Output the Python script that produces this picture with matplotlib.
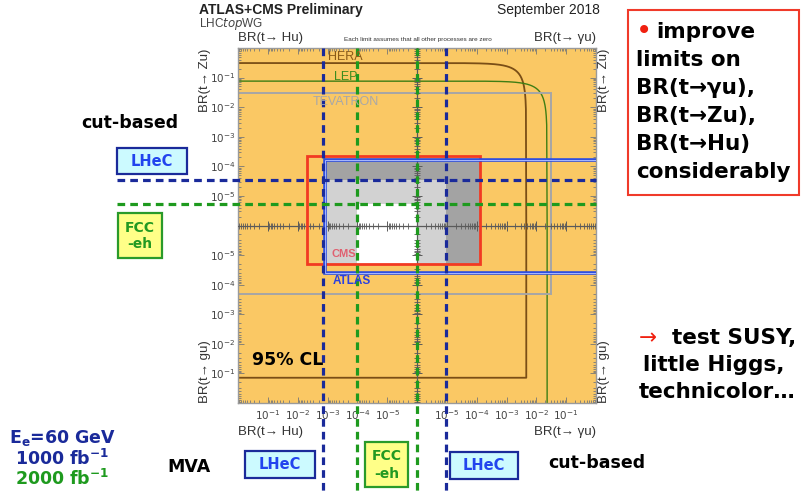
import numpy as np
import matplotlib
matplotlib.use("Agg")
import matplotlib.pyplot as plt
from matplotlib.patches import Rectangle
from matplotlib.ticker import FixedLocator, FuncFormatter

# --------------------------------------------------------------------------
# Data: 95% CL limits (1.0 = no limit drawn)
# --------------------------------------------------------------------------
experiments = ["HERA", "LEP", "TEVATRON", "CMS", "ATLAS"]
br_hu    = [1.0,    1.0,   1.0,    4.9e-3, 1.2e-3]
br_zu    = [0.31,   0.076, 0.030,  2.2e-4, 1.6e-4]
br_gamma = [4.6e-3, 0.023, 0.032,  1.3e-4, 1.0]
br_gu    = [0.14,   1.0,   2.0e-4, 2.0e-5, 4.0e-5]

# projected ep sensitivities (dashed lines)
projections = ["LHeC", "FCC-eh"]
proj_hu    = [1.4e-3, 1.0e-4]
proj_gamma = [9.3e-6, 1.0e-6]
proj_zu    = [3.5e-5, 5.4e-6]

decades = [-1, -2, -3, -4, -5]

W, H = 802, 492
ORANGE = "#FAC864"
NAVY = "#1A2A9A"
GREEN = "#1E9A1E"
PLOTFONT = ["Liberation Sans", "DejaVu Sans"]


# quadrant mapping: centre of the plot = 1e-6 on every axis, edges = 1
def ux_hu(br):
    return -(np.log10(br) + 6)


def ux_gam(br):
    return np.log10(br) + 6


def uy_zu(br):
    return np.log10(br) + 6


def uy_gu(br):
    return -(np.log10(br) + 6)


def fig_box(x0, y0, x1, y1):
    return [x0 / W, 1 - y1 / H, (x1 - x0) / W, (y1 - y0) / H]


plt.rcParams["font.family"] = ["DejaVu Sans"]
fig = plt.figure(figsize=(W / 100, H / 100), dpi=100)
fig.patch.set_facecolor("white")

# --------------------------------------------------------------------------
# Summary plot
# --------------------------------------------------------------------------
ax = fig.add_axes(fig_box(238, 48, 596, 403))
ax.set_facecolor(ORANGE)
ax.set_xlim(-6, 6)
ax.set_ylim(-6, 6)

i_cms, i_atl = experiments.index("CMS"), experiments.index("ATLAS")
i_lhec, i_fcc = projections.index("LHeC"), projections.index("FCC-eh")

# shaded regions
x0 = ux_hu(br_hu[i_atl])
y0 = uy_gu(br_gu[i_cms])
ax.add_patch(Rectangle((x0, y0), ux_gam(br_gamma[i_cms]) - x0,
                       uy_zu(br_zu[i_atl]) - y0, fc="#A3A3A3", ec="none", zorder=1))
ax.add_patch(Rectangle((x0, y0), ux_gam(proj_gamma[i_lhec]) - x0,
                       uy_zu(proj_zu[i_lhec]) - y0, fc="#D2D2D2", ec="none", zorder=1))
xf = ux_hu(proj_hu[i_fcc])
ax.add_patch(Rectangle((xf, y0), ux_gam(proj_gamma[i_fcc]) - xf,
                       uy_zu(proj_zu[i_fcc]) - y0, fc="white", ec="none", zorder=1))

# HERA and LEP: rounded corner in the (gamma u, Zu) quadrant
for name, clr, lw in [("HERA", "#7A4E16", 1.3), ("LEP", "#3E7E14", 1.0)]:
    i = experiments.index(name)
    X, Y, G = br_gamma[i], br_zu[i], br_gu[i]
    xs = np.logspace(-6, np.log10(X), 300)
    ys = np.clip(Y * (1 - xs / X), 1e-6, None)
    px = np.concatenate([[ux_hu(br_hu[i]), 0], ux_gam(xs), [ux_gam(X), ux_gam(X)]])
    py = np.concatenate([[uy_zu(Y), uy_zu(Y)], uy_zu(ys), [0, uy_gu(G)]])
    if G < 1:
        px = np.append(px, ux_hu(br_hu[i]))
        py = np.append(py, uy_gu(G))
    ax.plot(px, py, color=clr, lw=lw, zorder=2)

i = experiments.index("TEVATRON")
xt0 = ux_hu(br_hu[i])
yt0 = uy_gu(br_gu[i])
ax.add_patch(Rectangle((xt0, yt0), ux_gam(br_gamma[i]) - xt0, uy_zu(br_zu[i]) - yt0,
                       fc="none", ec="#A6A6A6", lw=1.4, zorder=2))

# centre cross with log ticks
minor = []
for k in range(-6, 0):
    for m in range(2, 10):
        minor.append(np.log10(m * 10.0 ** k) + 6)
minor = np.array(minor)
minor_u = np.concatenate([-minor, minor])
major_u = np.array([-5, -4, -3, -2, -1, 1, 2, 3, 4, 5])
ax.axhline(0, color="#5A5A5A", lw=0.9, zorder=3)
ax.axvline(0, color="#5A5A5A", lw=0.9, zorder=3)
ax.plot(minor_u, np.zeros_like(minor_u), ls="none", marker="|", ms=4,
        mew=0.6, color="#5A5A5A", zorder=3)
ax.plot(major_u, np.zeros_like(major_u), ls="none", marker="|", ms=7,
        mew=0.7, color="#5A5A5A", zorder=3)
ax.plot(np.zeros_like(minor_u), minor_u, ls="none", marker="_", ms=4,
        mew=0.6, color="#5A5A5A", zorder=3)
ax.plot(np.zeros_like(major_u), major_u, ls="none", marker="_", ms=7,
        mew=0.7, color="#5A5A5A", zorder=3)

# CMS
xc0, yc0 = ux_hu(br_hu[i_cms]), uy_gu(br_gu[i_cms])
ax.add_patch(Rectangle((xc0, yc0), ux_gam(br_gamma[i_cms]) - xc0,
                       uy_zu(br_zu[i_cms]) - yc0, fc="none", ec="#F23A22",
                       lw=2.0, zorder=4))

# ATLAS (double line look)
xa0 = ux_hu(br_hu[i_atl])
xa1 = ux_gam(br_gamma[i_atl])
ya_top, ya_bot = uy_zu(br_zu[i_atl]), uy_gu(br_gu[i_atl])
for clr, lw in [("#2E4FE0", 2.6), ("#A9B9FF", 0.7)]:
    ax.plot([xa1, xa0, xa0, xa1], [ya_top, ya_top, ya_bot, ya_bot],
            color=clr, lw=lw, zorder=5, solid_joinstyle="miter")

# frame ticks
ax.xaxis.set_major_locator(FixedLocator(major_u))
ax.yaxis.set_major_locator(FixedLocator(major_u))
ax.xaxis.set_minor_locator(FixedLocator(minor_u))
ax.yaxis.set_minor_locator(FixedLocator(minor_u))
fmt = FuncFormatter(lambda u, pos: r"$10^{%d}$" % (abs(round(u)) - 6))
ax.xaxis.set_major_formatter(fmt)
ax.yaxis.set_major_formatter(fmt)
ax.tick_params(which="both", direction="in", top=True, right=True,
               color="#777777", width=0.6, labelsize=7.5, labelcolor="#444444")
ax.tick_params(which="major", length=4)
ax.tick_params(which="minor", length=2)
ax.tick_params(axis="x", pad=4)
ax.tick_params(axis="y", pad=2)
for s in ax.spines.values():
    s.set_color("#9A9A9A")
    s.set_linewidth(1.0)

# projected limits, drawn across the slide
dash = dict(lw=2.3, dashes=(2.4, 1.6), clip_on=False, zorder=6)
tx = ax.get_xaxis_transform()
ty = ax.get_yaxis_transform()
ybot = -(H - 403) / (403 - 48)
xleft = -(238 - 117) / (596 - 238)
for j, clr in [(i_lhec, NAVY), (i_fcc, GREEN)]:
    for u in [ux_hu(proj_hu[j]), ux_gam(proj_gamma[j])]:
        ax.plot([u, u], [1, ybot], color=clr, transform=tx, **dash)
    u = uy_zu(proj_zu[j])
    ax.plot([xleft, 1], [u, u], color=clr, transform=ty, **dash)

# --------------------------------------------------------------------------
# Slide overlay in pixel coordinates
# --------------------------------------------------------------------------
ov = fig.add_axes([0, 0, 1, 1], zorder=10)
ov.set_xlim(0, W)
ov.set_ylim(H, 0)
ov.axis("off")
ov.patch.set_alpha(0)

# plot labels
ov.text(199, 10, "ATLAS+CMS Preliminary", family=PLOTFONT, weight="bold",
        fontsize=10, va="center", color="#222222")
ov.text(199, 24, r"LHC$\it{top}$WG", family=PLOTFONT, fontsize=8.5,
        va="center", color="#444444")
ov.text(600, 10, "September 2018", family=PLOTFONT, fontsize=10,
        ha="right", va="center", color="#222222")
ov.text(238, 38, "BR(t→ Hu)", family=PLOTFONT, fontsize=9.5, va="center", color="#333333")
ov.text(596, 38, "BR(t→ γu)", family=PLOTFONT, fontsize=9.5, ha="right",
        va="center", color="#333333")
ov.text(418, 39, "Each limit assumes that all other processes are zero",
        family=PLOTFONT, fontsize=4.6, ha="center", va="center", color="#333333")
ov.text(238, 432, "BR(t→ Hu)", family=PLOTFONT, fontsize=9.5, va="center", color="#333333")
ov.text(596, 432, "BR(t→ γu)", family=PLOTFONT, fontsize=9.5, ha="right",
        va="center", color="#333333")
for xx in [205, 604]:
    ov.text(xx, 49, "BR(t→ Zu)", family=PLOTFONT, fontsize=9.5, rotation=90,
            ha="center", va="top", color="#333333")
    ov.text(xx, 403, "BR(t→ gu)", family=PLOTFONT, fontsize=9.5, rotation=90,
            ha="center", va="bottom", color="#333333")

ov.text(328, 57, "HERA", family=PLOTFONT, fontsize=9, va="center", color="#8A5A18")
ov.text(334, 77, "LEP", family=PLOTFONT, fontsize=9, va="center", color="#3C8C1E")
ov.text(313, 102, "TEVATRON", family=PLOTFONT, fontsize=9, va="center", color="#A8A8A8")
ov.text(331, 254, "CMS", family=PLOTFONT, fontsize=8, weight="bold", va="center",
        color="#E06070")
ov.text(333, 281, "ATLAS", family=PLOTFONT, fontsize=8.5, weight="bold", va="center",
        color="#2A40E0")
ov.text(252, 360, "95% CL", fontsize=12.5, weight="bold", va="center", color="black")

# right-hand message box
ov.add_patch(Rectangle((628, 10), 171, 185, fc="white", ec="#F03A2A", lw=1.5))
ov.text(636, 31, "•", fontsize=20, color="#F02010", va="center")
ov.text(656, 32, "improve", fontsize=15.5, weight="bold", va="center")
for k, line in enumerate(["limits on", "BR(t→γu),", "BR(t→Zu),", "BR(t→Hu)",
                          "considerably"]):
    ov.text(636, 60 + 28 * k, line, fontsize=15.5, weight="bold", va="center")

ov.text(639, 338, "→", fontsize=15.5, color="#F02010", va="center")
ov.text(672, 338, "test SUSY,", fontsize=15.5, weight="bold", va="center")
ov.text(643, 365, "little Higgs,", fontsize=15.5, weight="bold", va="center")
ov.text(639, 392, "technicolor…", fontsize=15.5, weight="bold", va="center")

ov.text(130, 123, "cut-based", fontsize=12.5, weight="bold", ha="center", va="center")
ov.text(189, 467, "MVA", fontsize=12.5, weight="bold", ha="center", va="center")
ov.text(597, 463, "cut-based", fontsize=12.5, weight="bold", ha="center", va="center")

ov.text(62, 438, r"E$_\mathbf{e}$=60 GeV", fontsize=12.5, weight="bold",
        ha="center", va="center", color=NAVY)
ov.text(62, 459, r"1000 fb$^\mathbf{-1}$", fontsize=12.5, weight="bold",
        ha="center", va="center", color=NAVY)
ov.text(62, 479, r"2000 fb$^\mathbf{-1}$", fontsize=12.5, weight="bold",
        ha="center", va="center", color=GREEN)


def lhec_box(x0, y0, x1, y1):
    ov.add_patch(Rectangle((x0, y0), x1 - x0, y1 - y0, fc="#CCFAFF", ec=NAVY, lw=1.6))
    ov.text((x0 + x1) / 2, (y0 + y1) / 2, "LHeC", fontsize=10.5, weight="bold",
            ha="center", va="center", color="#2244EE")


def fcc_box(x0, y0, x1, y1):
    ov.add_patch(Rectangle((x0, y0), x1 - x0, y1 - y0, fc="#FFFF88", ec="#2A9A2A", lw=1.6))
    yc = (y0 + y1) / 2
    ov.text((x0 + x1) / 2, yc - 8, "FCC", fontsize=10, weight="bold",
            ha="center", va="center", color="#229922")
    ov.text((x0 + x1) / 2, yc + 9, "-eh", fontsize=10, weight="bold",
            ha="center", va="center", color="#229922")


lhec_box(117, 148, 187, 174)
fcc_box(118, 213, 162, 258)
lhec_box(245, 451, 315, 478)
fcc_box(365, 442, 408, 487)
lhec_box(450, 452, 518, 479)

fig.savefig("out.png", dpi=100)
